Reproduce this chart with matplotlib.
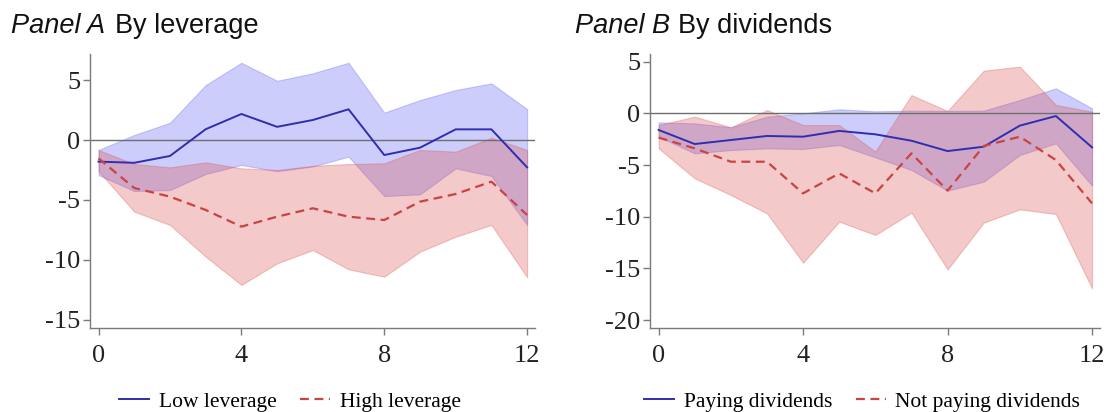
import matplotlib
matplotlib.use("Agg")
import matplotlib.pyplot as plt
from matplotlib.lines import Line2D

# Horizon (quarters after the shock)
horizon = list(range(13))

# Panel A: by leverage
low_lev = [-1.8, -1.9, -1.33, 0.9, 2.17, 1.1, 1.67, 2.56, -1.25, -0.64, 0.89, 0.89, -2.28]
low_lev_hi = [-0.83, 0.42, 1.44, 4.58, 6.44, 4.94, 5.56, 6.44, 2.28, 3.33, 4.17, 4.72, 2.58]
low_lev_lo = [-2.92, -4.25, -4.17, -2.83, -2.08, -2.6, -2.2, -1.39, -4.67, -4.53, -2.36, -3.0, -7.08]
high_lev = [-1.53, -4.0, -4.72, -5.83, -7.22, -6.39, -5.69, -6.39, -6.67, -5.14, -4.5, -3.47, -6.25]
high_lev_hi = [-0.83, -2.0, -2.28, -1.86, -2.36, -2.5, -2.15, -2.0, -1.94, -0.83, -0.97, 0.19, -0.83]
high_lev_lo = [-2.6, -5.97, -7.08, -9.72, -12.08, -10.28, -9.17, -10.78, -11.39, -9.31, -8.06, -7.08, -11.44]

# Panel B: by dividends
pay_div = [-1.61, -2.97, -2.58, -2.19, -2.26, -1.7, -2.03, -2.65, -3.65, -3.23, -1.19, -0.26, -3.29]
pay_div_hi = [-0.87, -0.97, -1.35, -0.32, 0.0, 0.39, 0.2, 0.26, 0.23, 0.26, 1.29, 2.42, 0.48]
pay_div_lo = [-2.26, -3.87, -3.55, -3.39, -3.45, -3.06, -4.26, -5.48, -7.48, -6.61, -4.03, -2.9, -7.0]
nopay_div = [-2.35, -3.39, -4.68, -4.68, -7.74, -5.81, -7.74, -3.87, -7.48, -3.16, -2.26, -4.52, -8.71]
nopay_div_hi = [-1.13, -0.32, -1.35, 0.32, -1.13, -1.13, -3.7, 1.77, 0.23, 4.13, 4.52, 0.81, 0.16]
nopay_div_lo = [-3.39, -6.29, -7.9, -9.68, -14.45, -10.48, -11.77, -9.61, -15.1, -10.58, -9.29, -9.74, -16.94]

x_ticks = [0, 4, 8, 12]
yticks_a = [5, 0, -5, -10, -15]
yticks_b = [5, 0, -5, -10, -15, -20]

BLUE_LINE = "#2e2eb0"
RED_LINE = "#c84444"
BLUE_FILL = (0.36, 0.36, 0.95)
RED_FILL = (0.85, 0.30, 0.30)
AX_GRAY = "#7a7a7a"
SERIF = "Liberation Serif"
SANS = "Liberation Sans"

fig = plt.figure(figsize=(11.12, 4.12), dpi=100)
ax_a = fig.add_axes([0.0809, 0.2039, 0.4002, 0.665])
ax_b = fig.add_axes([0.5845, 0.2031, 0.4047, 0.6658])


def draw_panel(ax, s1, s1_lo, s1_hi, s2, s2_lo, s2_hi, ylim, yticks):
    ax.fill_between(horizon, s1_lo, s1_hi, facecolor=BLUE_FILL, alpha=0.3,
                    edgecolor=(0.36, 0.36, 0.95, 0.35), linewidth=0.8, zorder=1)
    ax.fill_between(horizon, s2_lo, s2_hi, facecolor=RED_FILL, alpha=0.3,
                    edgecolor=(0.85, 0.30, 0.30, 0.35), linewidth=0.8, zorder=1)
    ax.axhline(0, color="#6e6e6e", linewidth=1.0, zorder=2)
    ax.plot(horizon, s1, color=BLUE_LINE, linewidth=1.4, zorder=3)
    ax.plot(horizon, s2, color=RED_LINE, linewidth=1.6, dashes=(4, 2.5), zorder=3)
    ax.set_xlim(-0.24, 12.22)
    ax.set_ylim(*ylim)
    ax.set_xticks(x_ticks)
    ax.set_yticks(yticks)
    ax.set_yticklabels([f"{v:d}" for v in yticks])
    for side in ("top", "right"):
        ax.spines[side].set_visible(False)
    for side in ("left", "bottom"):
        ax.spines[side].set_color(AX_GRAY)
        ax.spines[side].set_linewidth(1.0)
    ax.tick_params(axis="both", direction="out", length=5, width=1.0,
                   color=AX_GRAY, labelsize=19, labelcolor="#222222")
    ax.tick_params(axis="y", pad=2)
    ax.tick_params(axis="x", pad=7)
    for lab in ax.get_xticklabels() + ax.get_yticklabels():
        lab.set_family(SERIF)


draw_panel(ax_a, low_lev, low_lev_lo, low_lev_hi, high_lev, high_lev_lo, high_lev_hi,
           (-15.67, 7.17), yticks_a)
draw_panel(ax_b, pay_div, pay_div_lo, pay_div_hi, nopay_div, nopay_div_lo, nopay_div_hi,
           (-20.8, 5.74), yticks_b)

# Panel titles: italic panel tag followed by the upright description
title_y = 1 - 33 / 412
fig.text(11 / 1112, title_y, "Panel A", family=SANS, style="italic", fontsize=19.5,
         va="baseline", ha="left", color="#111111")
fig.text(115 / 1112, title_y, "By leverage", family=SANS, fontsize=19.5,
         va="baseline", ha="left", color="#111111")
fig.text(575 / 1112, title_y, "Panel B", family=SANS, style="italic", fontsize=19.5,
         va="baseline", ha="left", color="#111111")
fig.text(678 / 1112, title_y, "By dividends", family=SANS, fontsize=19.5,
         va="baseline", ha="left", color="#111111")


def bottom_legend(labels, cx):
    handles = [Line2D([], [], color=BLUE_LINE, linewidth=1.4),
               Line2D([], [], color=RED_LINE, linewidth=1.6, dashes=(4, 2.5))]
    fig.legend(handles, labels, loc="center", bbox_to_anchor=(cx / 1112, 0.025),
               ncol=2, frameon=False, handlelength=1.4, handletextpad=0.45,
               columnspacing=1.1, borderaxespad=0,
               prop={"family": SERIF, "size": 15.5})


bottom_legend(["Low leverage", "High leverage"], 290)
bottom_legend(["Paying dividends", "Not paying dividends"], 862)

fig.savefig("out.png", dpi=100)
